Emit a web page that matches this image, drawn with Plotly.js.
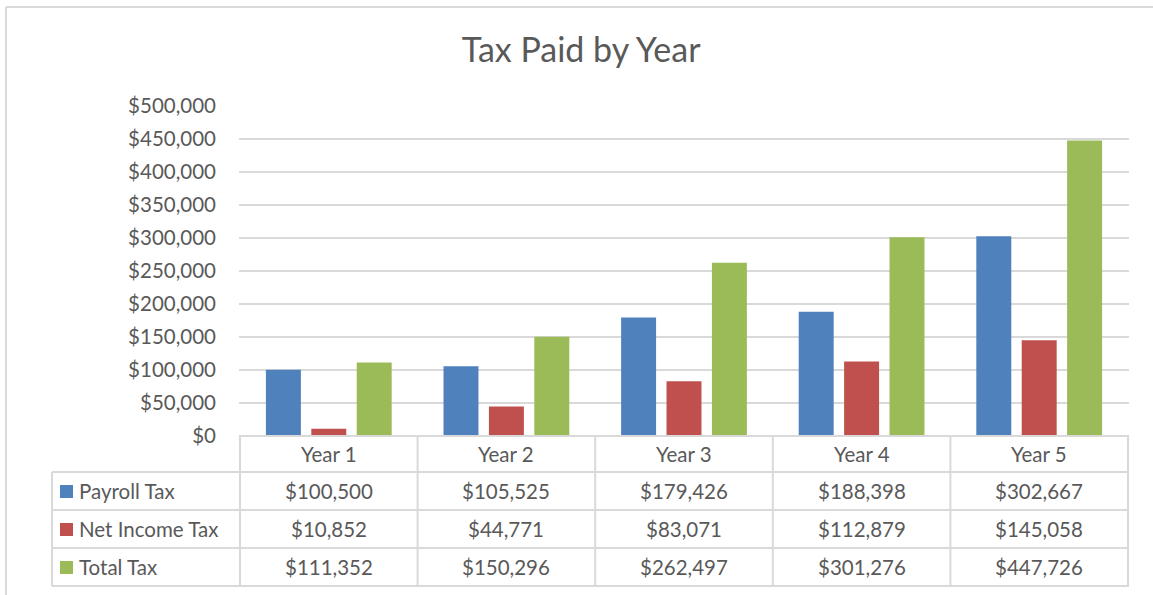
<!DOCTYPE html>
<html><head><meta charset="utf-8">
<script src="https://cdn.plot.ly/plotly-3.0.1.min.js"></script>
<style>html,body{margin:0;padding:0;background:#fff}#chart{width:1153px;height:595px}</style>
</head><body><div id="chart"></div>
<script>
const categories = ['Year 1','Year 2','Year 3','Year 4','Year 5'];
const seriesNames = ['Payroll Tax','Net Income Tax','Total Tax'];
const payrollTax = [100500,105525,179426,188398,302667];
const netIncomeTax = [10852,44771,83071,112879,145058];
const totalTax = [111352,150296,262497,301276,447726];
const seriesValues = [payrollTax, netIncomeTax, totalTax];
const colors = ['#4F81BD','#C0504D','#9BBB59'];

const FONT = 'Lato, "Open Sans", sans-serif';
const TXT = '#595959';
const GRID = '#D9D9D9';
const FS = 20.5;

const traces = seriesValues.map((vals,i)=>({
  type:'bar', name:seriesNames[i], x:categories, y:vals,
  marker:{color:colors[i]}, showlegend:false, hoverinfo:'x+y'
}));

const plotTop=106, plotBot=436, plotH=plotBot-plotTop, plotL=239, plotR=1129, plotW=plotR-plotL;
const py = px => (plotBot-px)/plotH;
const pxX = px => (px-plotL)/plotW;
const rowLines=[436,472,510,548,586];
const rowCenters=[454,491,529,567];

const shapes=[];
const line={color:GRID,width:2};
shapes.push({type:'line',xref:'paper',yref:'paper',x0:0,x1:1,y0:py(436),y1:py(436),line});
for(let k=1;k<rowLines.length;k++){
  shapes.push({type:'line',xref:'paper',yref:'paper',x0:pxX(52),x1:1,y0:py(rowLines[k]),y1:py(rowLines[k]),line});
}
for(let i=0;i<=categories.length;i++){
  shapes.push({type:'line',xref:'x',yref:'paper',x0:i-0.5,x1:i-0.5,y0:py(436),y1:py(586),line});
}
shapes.push({type:'line',xref:'paper',yref:'paper',x0:pxX(52),x1:pxX(52),y0:py(472),y1:py(586),line});
shapes.push({type:'line',xref:'paper',yref:'paper',x0:pxX(6),x1:pxX(1160),y0:py(7),y1:py(7),line:{color:GRID,width:2}});
shapes.push({type:'line',xref:'paper',yref:'paper',x0:pxX(6),x1:pxX(6),y0:py(7),y1:py(600),line:{color:GRID,width:2}});
seriesNames.forEach((n,i)=>{
  const c=rowCenters[i+1];
  shapes.push({type:'rect',xref:'paper',yref:'paper',x0:pxX(60),x1:pxX(73),y0:py(c-6),y1:py(c+7),fillcolor:colors[i],line:{width:0}});
});

const fmt = v => '$'+v.toLocaleString('en-US');
const annotations=[];
const tf={family:FONT,size:FS,color:TXT};
categories.forEach((c,i)=>{
  annotations.push({xref:'x',yref:'paper',x:c,y:py(rowCenters[0]),xanchor:'center',yanchor:'middle',text:c,showarrow:false,font:tf});
  seriesValues.forEach((vals,s)=>{
    annotations.push({xref:'x',yref:'paper',x:c,y:py(rowCenters[s+1]),xanchor:'center',yanchor:'middle',text:fmt(vals[i]),showarrow:false,font:tf});
  });
});
seriesNames.forEach((n,s)=>{
  annotations.push({xref:'paper',yref:'paper',x:pxX(77),xanchor:'left',yanchor:'middle',y:py(rowCenters[s+1]),text:n,showarrow:false,font:tf});
});

const layout={
  width:1153,height:595,
  paper_bgcolor:'#fff',plot_bgcolor:'#fff',
  margin:{l:plotL,r:1153-plotR,t:plotTop,b:595-plotBot,pad:0},
  title:{text:'Tax Paid by Year',font:{family:FONT,size:34,color:TXT},x:0.504,xanchor:'center',y:0.915,yanchor:'middle'},
  barmode:'group',bargap:0.233,bargroupgap:0.23,
  xaxis:{showticklabels:false,showgrid:false,zeroline:false,showline:false,ticks:''},
  yaxis:{range:[0,500000],dtick:50000,tickprefix:'$',tickformat:',d',showgrid:true,gridcolor:GRID,gridwidth:2,
    zeroline:false,showline:false,ticks:'',ticklabelstandoff:22,tickfont:tf},
  shapes,annotations
};
Plotly.newPlot('chart',traces,layout,{staticPlot:true});
</script></body></html>
